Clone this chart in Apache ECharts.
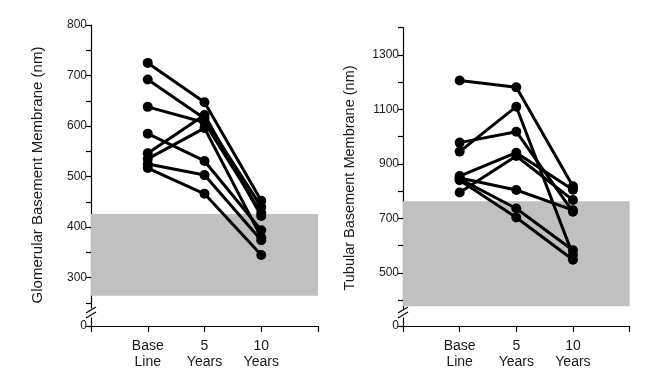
<!DOCTYPE html>
<html>
<head>
<meta charset="utf-8">
<script src="https://cdn.jsdelivr.net/npm/echarts@6/dist/echarts.min.js"></script>
<style>html,body{margin:0;padding:0;background:#fff}#c{width:670px;height:382px}</style>
</head>
<body>
<div id="c"></div>
<script>
// ---- data ----
var categories = ['Base\nLine', '5\nYears', '10\nYears'];

// Glomerular basement membrane (nm), one row per patient: baseline, 5 yr, 10 yr
var gbmBase = [725, 692, 638, 585, 546, 535, 525, 517];
var gbm5yr  = [647, 615, 607, 531, 622, 596, 503, 466];
var gbm10yr = [452, 440, 428, 394, 422, 380, 374, 345];
var gbmNormal = [264, 426];
var gbmTicks = [250, 300, 350, 400, 450, 500, 550, 600, 650, 700, 750, 800];
var gbmLabels = [300, 400, 500, 600, 700, 800];

// Tubular basement membrane (nm)
var tbmBase = [1206, 945, 978, 855, 795, 848, 845, 840];
var tbm5yr  = [1181, 1110, 1018, 941, 929, 804, 736, 703];
var tbm10yr = [818, 565, 724, 805, 767, 730, 583, 548];
var tbmNormal = [377, 763];
var tbmTicks = [400, 500, 600, 700, 800, 900, 1000, 1100, 1200, 1300, 1400];
var tbmLabels = [500, 700, 900, 1100, 1300];

var FONT = 'Liberation Sans, Arial, Helvetica, sans-serif';
var TXT = '#1a1a1a';

function patientSeries(base, y5, y10, axisIdx) {
  var out = [];
  for (var i = 0; i < base.length; i++) {
    out.push({
      type: 'line', xAxisIndex: axisIdx, yAxisIndex: axisIdx, z: 5,
      symbol: 'circle', symbolSize: 10,
      lineStyle: {color: '#000', width: 3},
      itemStyle: {color: '#000'},
      silent: true, animation: false,
      data: [[1, base[i]], [2, y5[i]], [3, y10[i]]]
    });
  }
  return out;
}
function bandSeries(band, axisIdx) {
  return {
    type: 'line', xAxisIndex: axisIdx, yAxisIndex: axisIdx, z: 1, data: [],
    silent: true, animation: false,
    markArea: {silent: true, itemStyle: {color: '#c0c0c0'},
      data: [[{yAxis: band[0]}, {yAxis: band[1]}]]}
  };
}

var grids = [
  {left: 91, top: 25, width: 227, height: 283},
  {left: 91, top: 318, width: 227, height: 8},
  {left: 403, top: 27.7, width: 226.6, height: 280.5},
  {left: 403, top: 318, width: 226.6, height: 8}
];
function xAx(g, visible) {
  return {
    gridIndex: g, type: 'value', min: 0, max: 4, interval: 1, show: visible,
    axisLine: {show: true, lineStyle: {color: '#000', width: 1.2}},
    axisTick: {show: true, length: 6, lineStyle: {color: '#000', width: 1.2}},
    axisLabel: {show: true, margin: 12, color: TXT, fontFamily: FONT, fontSize: 14, lineHeight: 16,
      formatter: function (v) { return (v >= 1 && v <= 3) ? categories[v - 1] : ''; }},
    splitLine: {show: false}
  };
}
function yAxMain(g, min, max, ticks, labels) {
  return {
    gridIndex: g, type: 'value', min: min, max: max,
    axisLine: {show: true, lineStyle: {color: '#000', width: 1.2}},
    axisTick: {show: true, length: 5, customValues: ticks, lineStyle: {color: '#000', width: 1.2}},
    axisLabel: {show: true, customValues: labels, margin: 4, color: TXT, fontFamily: FONT, fontSize: 12,
      formatter: function (v) { return String(v); }},
    splitLine: {show: false}
  };
}
function yAxZero(g) {
  return {
    gridIndex: g, type: 'value', min: 0, max: 10,
    axisLine: {show: true, lineStyle: {color: '#000', width: 1.2}},
    axisTick: {show: true, length: 5, customValues: [0], lineStyle: {color: '#000', width: 1.2}},
    axisLabel: {show: true, customValues: [0], margin: 4, color: TXT, fontFamily: FONT, fontSize: 12},
    splitLine: {show: false}
  };
}

function breakMarks(x, y) {
  return [
    {type: 'line', shape: {x1: x - 5, y1: y + 3, x2: x + 5, y2: y - 3}, style: {stroke: '#000', lineWidth: 1.2}},
    {type: 'line', shape: {x1: x - 5, y1: y + 8, x2: x + 5, y2: y + 2}, style: {stroke: '#000', lineWidth: 1.2}}
  ];
}

var series = [bandSeries(gbmNormal, 0), bandSeries(tbmNormal, 2)]
  .concat(patientSeries(gbmBase, gbm5yr, gbm10yr, 0))
  .concat(patientSeries(tbmBase, tbm5yr, tbm10yr, 2));

var graphics = [].concat(breakMarks(91, 310), breakMarks(403, 310));
graphics.push({type: 'text', x: 38, y: 175, rotation: Math.PI / 2,
  style: {text: 'Glomerular Basement Membrane (nm)', fill: TXT, font: '15px ' + FONT, align: 'center', verticalAlign: 'middle'}});
graphics.push({type: 'text', x: 350, y: 178, rotation: Math.PI / 2,
  style: {text: 'Tubular Basement Membrane (nm)', fill: TXT, font: '14.5px ' + FONT, align: 'center', verticalAlign: 'middle'}});

var chart = echarts.init(document.getElementById('c'), null, {renderer: 'canvas'});
chart.setOption({
  animation: false,
  backgroundColor: '#fff',
  grid: grids,
  xAxis: [xAx(0, false), xAx(1, true), xAx(2, false), xAx(3, true)],
  yAxis: [yAxMain(0, 240, 800, gbmTicks, gbmLabels), yAxZero(1),
          yAxMain(2, 370, 1400, tbmTicks, tbmLabels), yAxZero(3)],
  series: series,
  graphic: graphics
});
</script>
</body>
</html>
